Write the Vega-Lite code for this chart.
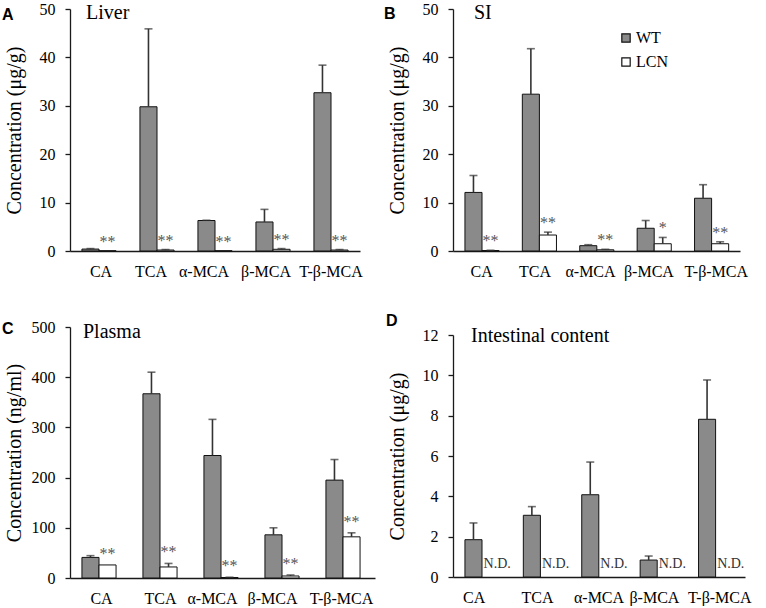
{
  "$schema": "https://vega.github.io/schema/vega-lite/v6.json",
  "padding": {"left": 2, "top": 1, "right": 0, "bottom": 0},
  "background": "white",
  "bounds": "full",
  "spacing": 9,
  "resolve": {"scale": {"fill": "independent"}, "legend": {"fill": "independent"}},
  "config": {
    "view": {"stroke": null},
    "axis": {"labelFont": "Liberation Serif", "titleFont": "Liberation Serif", "labelFontSize": 16, "titleFontSize": 20, "titleFontWeight": "normal", "labelColor": "#000", "titleColor": "#000", "domainColor": "#1a1a1a", "tickColor": "#1a1a1a", "grid": false, "domainWidth": 1.3, "tickWidth": 1.3},
    "axisX": {"ticks": false, "labelPadding": 12, "labelAngle": 0, "title": null},
    "axisY": {"tickSize": 5, "labelPadding": 10, "titleX": -46, "titleBaseline": "bottom"},
    "text": {"font": "Liberation Serif"},
    "legend": {"orient": "none", "symbolType": "square", "symbolSize": 70, "symbolStrokeColor": "#111", "symbolStrokeWidth": 1.2, "labelFont": "Liberation Serif", "labelFontSize": 16, "labelColor": "#000", "padding": 0, "rowPadding": 8, "labelOffset": 2}
  },
  "hconcat": [
    {
      "vconcat": [
        {
          "width": 290, "height": 242,
          "data": {"values": [
            {"acid": "CA", "group": "WT", "value": 0.4, "upper": 0.5, "sig": ""},
            {"acid": "CA", "group": "LCN", "value": 0.05, "upper": 0.05, "sig": "**"},
            {"acid": "TCA", "group": "WT", "value": 29.8, "upper": 45.9, "sig": ""},
            {"acid": "TCA", "group": "LCN", "value": 0.2, "upper": 0.3, "sig": "**"},
            {"acid": "α-MCA", "group": "WT", "value": 6.3, "upper": 6.35, "sig": ""},
            {"acid": "α-MCA", "group": "LCN", "value": 0.05, "upper": 0.05, "sig": "**"},
            {"acid": "β-MCA", "group": "WT", "value": 6.0, "upper": 8.6, "sig": ""},
            {"acid": "β-MCA", "group": "LCN", "value": 0.35, "upper": 0.5, "sig": "**"},
            {"acid": "T-β-MCA", "group": "WT", "value": 32.7, "upper": 38.4, "sig": ""},
            {"acid": "T-β-MCA", "group": "LCN", "value": 0.2, "upper": 0.3, "sig": "**"}
          ]},
          "encoding": {
            "x": {"field": "acid", "type": "nominal", "scale": {"domain": ["CA", "TCA", "α-MCA", "β-MCA", "T-β-MCA"], "paddingInner": 0, "paddingOuter": 0},
                  "axis": {"labelOffset": {"expr": "datum.value === 'CA' ? 2 : datum.value === 'TCA' ? -6 : datum.value === 'α-MCA' ? -11 : datum.value === 'β-MCA' ? -7 : 0"}}},
            "xOffset": {"field": "group", "type": "nominal", "scale": {"domain": ["WT", "LCN"], "paddingInner": 0, "paddingOuter": 0.7}}
          },
          "layer": [
            {"mark": {"type": "bar", "stroke": "#111", "strokeWidth": 1},
             "encoding": {
               "y": {"field": "value", "type": "quantitative", "scale": {"domain": [0, 50], "nice": false}, "axis": {"title": "Concentration (μg/g)", "values": [0, 10, 20, 30, 40, 50]}},
               "fill": {"field": "group", "type": "nominal", "scale": {"domain": ["WT", "LCN"], "range": ["#8a8a8a", "#ffffff"]}, "legend": null}
             }},
            {"transform": [{"filter": "datum.upper > datum.value"}], "mark": {"type": "rule", "color": "#333", "strokeWidth": 1.6},
             "encoding": {"y": {"field": "value", "type": "quantitative"}, "y2": {"field": "upper"}}},
            {"transform": [{"filter": "datum.upper > datum.value"}], "mark": {"type": "tick", "color": "#333", "thickness": 1.6, "size": 8},
             "encoding": {"y": {"field": "upper", "type": "quantitative"}}},
            {"transform": [{"filter": "datum.sig != ''"}], "mark": {"type": "text", "baseline": "alphabetic", "dy": -4, "fontSize": 16, "fill": "#555"},
             "encoding": {"y": {"field": "upper", "type": "quantitative"}, "text": {"field": "sig"}}},
            {"data": {"values": [{"t": "Liver"}]}, "mark": {"type": "text", "align": "left", "baseline": "alphabetic", "dx": 16, "dy": 10, "fontSize": 20, "fill": "#000"},
             "encoding": {"x": {"datum": "CA", "type": "nominal"}, "y": {"datum": 50, "type": "quantitative"}, "xOffset": {"value": 0}, "text": {"field": "t"}}},
            {"data": {"values": [{"t": "A"}]}, "mark": {"type": "text", "align": "left", "baseline": "top", "dx": -68, "dy": -2, "fontSize": 16, "font": "Liberation Sans", "fontWeight": "bold", "fill": "#000"},
             "encoding": {"x": {"datum": "CA", "type": "nominal"}, "y": {"datum": 50, "type": "quantitative"}, "xOffset": {"value": 0}, "text": {"field": "t"}}}
          ]
        },
        {
          "width": 305, "height": 251,
          "data": {"values": [
            {"acid": "CA", "group": "WT", "value": 41, "upper": 44.5, "sig": ""},
            {"acid": "CA", "group": "LCN", "value": 26, "upper": 26, "sig": "**"},
            {"acid": "TCA", "group": "WT", "value": 367, "upper": 410, "sig": ""},
            {"acid": "TCA", "group": "LCN", "value": 22, "upper": 29, "sig": "**"},
            {"acid": "α-MCA", "group": "WT", "value": 244, "upper": 316, "sig": ""},
            {"acid": "α-MCA", "group": "LCN", "value": 1, "upper": 1.5, "sig": "**"},
            {"acid": "β-MCA", "group": "WT", "value": 86, "upper": 100, "sig": ""},
            {"acid": "β-MCA", "group": "LCN", "value": 4, "upper": 6, "sig": "**"},
            {"acid": "T-β-MCA", "group": "WT", "value": 195, "upper": 236, "sig": ""},
            {"acid": "T-β-MCA", "group": "LCN", "value": 82, "upper": 90, "sig": "**"}
          ]},
          "encoding": {
            "x": {"field": "acid", "type": "nominal", "scale": {"domain": ["CA", "TCA", "α-MCA", "β-MCA", "T-β-MCA"], "paddingInner": 0, "paddingOuter": 0},
                  "axis": {"labelOffset": {"expr": "datum.value === 'CA' ? 1 : datum.value === 'TCA' ? -1 : datum.value === 'α-MCA' ? -10 : datum.value === 'β-MCA' ? -11 : -3"}}},
            "xOffset": {"field": "group", "type": "nominal", "scale": {"domain": ["WT", "LCN"], "paddingInner": 0, "paddingOuter": 0.7}}
          },
          "layer": [
            {"mark": {"type": "bar", "stroke": "#111", "strokeWidth": 1},
             "encoding": {
               "y": {"field": "value", "type": "quantitative", "scale": {"domain": [0, 500], "nice": false}, "axis": {"title": "Concentration (ng/ml)", "values": [0, 100, 200, 300, 400, 500], "titleX": -46}},
               "fill": {"field": "group", "type": "nominal", "scale": {"domain": ["WT", "LCN"], "range": ["#8a8a8a", "#ffffff"]}, "legend": null}
             }},
            {"transform": [{"filter": "datum.upper > datum.value"}], "mark": {"type": "rule", "color": "#333", "strokeWidth": 1.6},
             "encoding": {"y": {"field": "value", "type": "quantitative"}, "y2": {"field": "upper"}}},
            {"transform": [{"filter": "datum.upper > datum.value"}], "mark": {"type": "tick", "color": "#333", "thickness": 1.6, "size": 8},
             "encoding": {"y": {"field": "upper", "type": "quantitative"}}},
            {"transform": [{"filter": "datum.sig != ''"}], "mark": {"type": "text", "baseline": "alphabetic", "dy": -6, "fontSize": 16, "fill": "#555"},
             "encoding": {"y": {"field": "upper", "type": "quantitative"}, "text": {"field": "sig"}}},
            {"data": {"values": [{"t": "Plasma"}]}, "mark": {"type": "text", "align": "left", "baseline": "alphabetic", "dx": 13, "dy": 11, "fontSize": 20, "fill": "#000"},
             "encoding": {"x": {"datum": "CA", "type": "nominal"}, "y": {"datum": 500, "type": "quantitative"}, "xOffset": {"value": 0}, "text": {"field": "t"}}},
            {"data": {"values": [{"t": "C"}]}, "mark": {"type": "text", "align": "left", "baseline": "top", "dx": -68, "dy": -6, "fontSize": 16, "font": "Liberation Sans", "fontWeight": "bold", "fill": "#000"},
             "encoding": {"x": {"datum": "CA", "type": "nominal"}, "y": {"datum": 500, "type": "quantitative"}, "xOffset": {"value": 0}, "text": {"field": "t"}}}
          ]
        }
      ],
      "spacing": 76,
      "bounds": "flush",
      "resolve": {"scale": {"fill": "independent"}, "legend": {"fill": "independent"}}
    },
    {
      "vconcat": [
        {
          "width": 287, "height": 242,
          "data": {"values": [
            {"acid": "CA", "group": "WT", "value": 12.1, "upper": 15.6, "sig": ""},
            {"acid": "CA", "group": "LCN", "value": 0.1, "upper": 0.15, "sig": "**"},
            {"acid": "TCA", "group": "WT", "value": 32.4, "upper": 41.8, "sig": ""},
            {"acid": "TCA", "group": "LCN", "value": 3.3, "upper": 3.9, "sig": "**"},
            {"acid": "α-MCA", "group": "WT", "value": 1.1, "upper": 1.3, "sig": ""},
            {"acid": "α-MCA", "group": "LCN", "value": 0.25, "upper": 0.35, "sig": "**"},
            {"acid": "β-MCA", "group": "WT", "value": 4.7, "upper": 6.3, "sig": ""},
            {"acid": "β-MCA", "group": "LCN", "value": 1.5, "upper": 2.8, "sig": "*"},
            {"acid": "T-β-MCA", "group": "WT", "value": 10.9, "upper": 13.7, "sig": ""},
            {"acid": "T-β-MCA", "group": "LCN", "value": 1.5, "upper": 1.9, "sig": "**"}
          ]},
          "encoding": {
            "x": {"field": "acid", "type": "nominal", "scale": {"domain": ["CA", "TCA", "α-MCA", "β-MCA", "T-β-MCA"], "paddingInner": 0, "paddingOuter": 0},
                  "axis": {"labelOffset": {"expr": "datum.value === 'CA' ? 0 : datum.value === 'TCA' ? -4 : datum.value === 'α-MCA' ? -6 : datum.value === 'β-MCA' ? -5 : 5"}}},
            "xOffset": {"field": "group", "type": "nominal", "scale": {"domain": ["WT", "LCN"], "paddingInner": 0, "paddingOuter": 0.7}}
          },
          "layer": [
            {"mark": {"type": "bar", "stroke": "#111", "strokeWidth": 1},
             "encoding": {
               "y": {"field": "value", "type": "quantitative", "scale": {"domain": [0, 50], "nice": false}, "axis": {"title": "Concentration (μg/g)", "values": [0, 10, 20, 30, 40, 50]}},
               "fill": {"field": "group", "type": "nominal", "scale": {"domain": ["WT", "LCN"], "range": ["#8a8a8a", "#ffffff"]}, "legend": {"title": null, "legendX": 165, "legendY": 21}}
             }},
            {"transform": [{"filter": "datum.upper > datum.value"}], "mark": {"type": "rule", "color": "#333", "strokeWidth": 1.6},
             "encoding": {"y": {"field": "value", "type": "quantitative"}, "y2": {"field": "upper"}}},
            {"transform": [{"filter": "datum.upper > datum.value"}], "mark": {"type": "tick", "color": "#333", "thickness": 1.6, "size": 8},
             "encoding": {"y": {"field": "upper", "type": "quantitative"}}},
            {"transform": [{"filter": "datum.sig != ''"}], "mark": {"type": "text", "baseline": "alphabetic", "dy": -4, "fontSize": 16, "fill": "#555"},
             "encoding": {"y": {"field": "upper", "type": "quantitative"}, "text": {"field": "sig"}}},
            {"data": {"values": [{"t": "SI"}]}, "mark": {"type": "text", "align": "left", "baseline": "alphabetic", "dx": 21, "dy": 10, "fontSize": 20, "fill": "#000"},
             "encoding": {"x": {"datum": "CA", "type": "nominal"}, "y": {"datum": 50, "type": "quantitative"}, "xOffset": {"value": 0}, "text": {"field": "t"}}},
            {"data": {"values": [{"t": "B"}]}, "mark": {"type": "text", "align": "left", "baseline": "top", "dx": -69, "dy": -3, "fontSize": 16, "font": "Liberation Sans", "fontWeight": "bold", "fill": "#000"},
             "encoding": {"x": {"datum": "CA", "type": "nominal"}, "y": {"datum": 50, "type": "quantitative"}, "xOffset": {"value": 0}, "text": {"field": "t"}}}
          ]
        },
        {
          "width": 292, "height": 242,
          "data": {"values": [
            {"acid": "CA", "group": "WT", "value": 1.85, "upper": 2.68, "nd": ""},
            {"acid": "CA", "group": "LCN", "value": null, "upper": null, "nd": "N.D."},
            {"acid": "TCA", "group": "WT", "value": 3.06, "upper": 3.49, "nd": ""},
            {"acid": "TCA", "group": "LCN", "value": null, "upper": null, "nd": "N.D."},
            {"acid": "α-MCA", "group": "WT", "value": 4.08, "upper": 5.7, "nd": ""},
            {"acid": "α-MCA", "group": "LCN", "value": null, "upper": null, "nd": "N.D."},
            {"acid": "β-MCA", "group": "WT", "value": 0.84, "upper": 1.04, "nd": ""},
            {"acid": "β-MCA", "group": "LCN", "value": null, "upper": null, "nd": "N.D."},
            {"acid": "T-β-MCA", "group": "WT", "value": 7.82, "upper": 9.77, "nd": ""},
            {"acid": "T-β-MCA", "group": "LCN", "value": null, "upper": null, "nd": "N.D."}
          ]},
          "encoding": {
            "x": {"field": "acid", "type": "nominal", "scale": {"domain": ["CA", "TCA", "α-MCA", "β-MCA", "T-β-MCA"], "paddingInner": 0, "paddingOuter": 0},
                  "axis": {"labelOffset": {"expr": "datum.value === 'CA' ? -8 : datum.value === 'TCA' ? -3 : datum.value === 'α-MCA' ? 0 : datum.value === 'β-MCA' ? -3 : 4"}}},
            "xOffset": {"field": "group", "type": "nominal", "scale": {"domain": ["WT", "LCN"], "paddingInner": 0, "paddingOuter": 0.7}}
          },
          "layer": [
            {"transform": [{"filter": "datum.group == 'WT'"}], "mark": {"type": "bar", "stroke": "#111", "strokeWidth": 1},
             "encoding": {
               "y": {"field": "value", "type": "quantitative", "scale": {"domain": [0, 12], "nice": false}, "axis": {"title": "Concentration (μg/g)", "values": [0, 2, 4, 6, 8, 10, 12]}},
               "fill": {"field": "group", "type": "nominal", "scale": {"domain": ["WT", "LCN"], "range": ["#8a8a8a", "#ffffff"]}, "legend": null}
             }},
            {"transform": [{"filter": "datum.group == 'WT'"}], "mark": {"type": "rule", "color": "#333", "strokeWidth": 1.6},
             "encoding": {"y": {"field": "value", "type": "quantitative"}, "y2": {"field": "upper"}}},
            {"transform": [{"filter": "datum.group == 'WT'"}], "mark": {"type": "tick", "color": "#333", "thickness": 1.6, "size": 8},
             "encoding": {"y": {"field": "upper", "type": "quantitative"}}},
            {"transform": [{"filter": "datum.nd != ''"}], "mark": {"type": "text", "align": "left", "baseline": "alphabetic", "dx": -7, "dy": -9, "fontSize": 14, "fill": "#333"},
             "encoding": {"y": {"datum": 0, "type": "quantitative"}, "text": {"field": "nd"}}},
            {"data": {"values": [{"t": "Intestinal content"}]}, "mark": {"type": "text", "align": "left", "baseline": "alphabetic", "dx": 18, "dy": 7, "fontSize": 20, "fill": "#000"},
             "encoding": {"x": {"datum": "CA", "type": "nominal"}, "y": {"datum": 12, "type": "quantitative"}, "xOffset": {"value": 0}, "text": {"field": "t"}}},
            {"data": {"values": [{"t": "D"}]}, "mark": {"type": "text", "align": "left", "baseline": "top", "dx": -67, "dy": -22, "fontSize": 16, "font": "Liberation Sans", "fontWeight": "bold", "fill": "#000"},
             "encoding": {"x": {"datum": "CA", "type": "nominal"}, "y": {"datum": 12, "type": "quantitative"}, "xOffset": {"value": 0}, "text": {"field": "t"}}}
          ]
        }
      ],
      "spacing": 84,
      "bounds": "flush",
      "resolve": {"scale": {"fill": "independent"}, "legend": {"fill": "independent"}}
    }
  ]
}
